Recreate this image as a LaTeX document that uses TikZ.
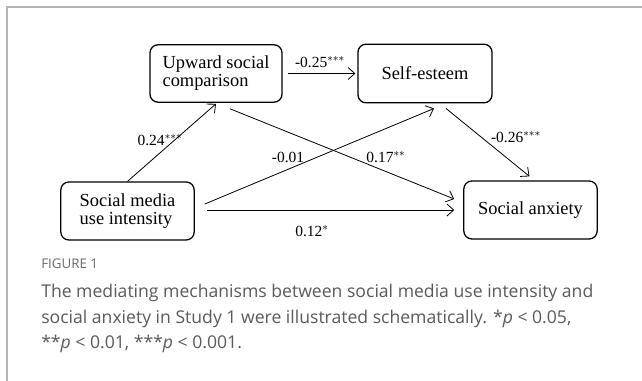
\documentclass[tikz,border=0pt]{standalone}
\usepackage{fontspec}
\setmainfont{Liberation Serif}
\newfontfamily\capfont{Open Sans}
\usetikzlibrary{arrows.meta,calc}
\definecolor{framegray}{HTML}{B4B4B4}
\definecolor{capgray}{HTML}{5A5A5A}
\definecolor{figgray}{HTML}{6A6A6A}
\begin{document}
\begin{tikzpicture}[x=0.75pt,y=-0.75pt,
  box/.style={draw=black, line width=0.95pt, rounded corners=6pt, inner sep=0pt,
    align=left, font=\fontsize{13.8}{13.5}\selectfont},
  conn/.style={line width=0.6pt, -{Straight Barb[length=5pt,width=9pt,line width=0.6pt]}},
  lab/.style={font=\fontsize{11.6}{13}\selectfont, inner sep=0pt},
  captxt/.style={text=capgray, font=\capfont\fontsize{13.2}{15}\selectfont, anchor=base west, inner sep=0pt}]
\useasboundingbox (0,0) rectangle (642,381);
\fill[white] (0,0) rectangle (642,381);
\draw[framegray, line width=1.1pt] (7,381) -- (7,7) -- (642,7);

\node[box, minimum width=99pt, minimum height=43pt] (up) at (216,73.5) {Upward social\\comparison};
\node[box, minimum width=100.5pt, minimum height=44pt] (se) at (425,73.5) {Self-esteem};
\node[box, minimum width=100pt, minimum height=43.5pt] (sm) at (127.5,211) {Social media\\use intensity};
\node[box, minimum width=100pt, minimum height=43.5pt] (sa) at (530.5,210) {Social anxiety};

\draw[conn] ($(up.east)+(5,0)$) -- ($(se.west)+(-2,0)$);
\draw[conn] (sm.north) -- ($(up.south)+(0,1)$);
\draw[conn] ($(sm.east)+(10,-7)$) -- ($(se.south)+(9,5)$);
\draw[conn] ($(sm.east)+(12,-1)$) -- ($(sa.west)+(-9,0)$);
\draw[conn] ($(up.south)+(14,6)$) -- ($(sa.west)+(-9,-11)$);
\draw[conn] ($(se.south)+(21,5)$) -- ($(sa.north)+(-1,-4)$);

\node[lab] (l1) at (320,62) {-0.25$^{***}$};
\node[lab] (l2) at (160,140) {0.24$^{***}$};
\node[lab] (l3) at (288,157) {-0.01};
\node[lab] (l4) at (386,157) {0.17$^{**}$};
\node[lab] (l5) at (516,137) {-0.26$^{***}$};
\node[lab] (l6) at (312,231) {0.12$^{*}$};

\node[captxt, text=figgray, font=\capfont\fontsize{10}{12}\selectfont] (fig) at (41,268) {FIGURE 1};
\node[captxt] (c1) at (41,297) {The mediating mechanisms between social media use intensity and};
\node[captxt] (c2) at (41,323) {social anxiety in Study 1 were illustrated schematically. *\textit{p} < 0.05,};
\node[captxt] (c3) at (41,348) {**\textit{p} < 0.01, ***\textit{p} < 0.001.};
\end{tikzpicture}
\end{document}
